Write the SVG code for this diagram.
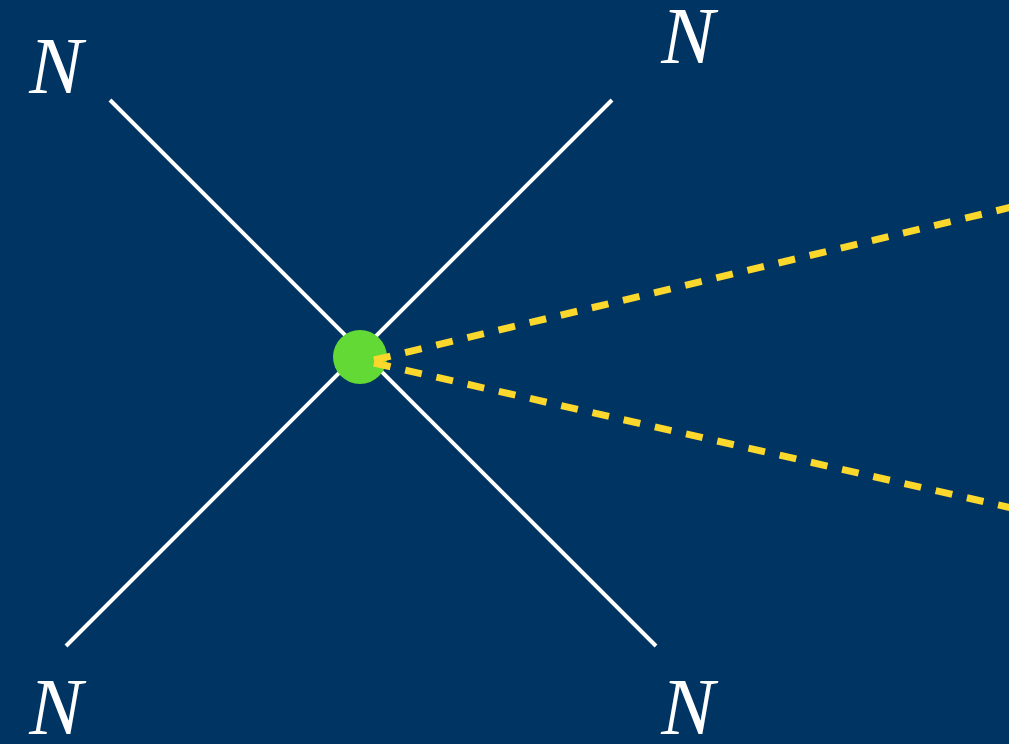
<svg xmlns="http://www.w3.org/2000/svg" width="1009" height="744" viewBox="0 0 1009 744">
<style>
.edge{stroke:#ffffff;stroke-width:4;fill:none}
.ray{stroke:#fcd72c;stroke-width:7;fill:none;stroke-dasharray:17 15}
.lbl{font-family:'Liberation Serif','Times New Roman',serif;font-style:italic;font-weight:400;font-size:80px;fill:#ffffff;text-anchor:middle}
</style>
<rect width="1009" height="744" fill="#003462"/>
<g id="connectors">
<line class="edge" x1="110" y1="100" x2="656" y2="646"/>
<line class="edge" x1="612" y1="100" x2="66" y2="646"/>
</g>
<g id="vertex"><circle cx="360" cy="357" r="27" fill="#62d935"/></g>
<g id="rays">
<line class="ray" x1="374" y1="360" x2="1012" y2="207"/>
<line class="ray" x1="374" y1="363" x2="1012" y2="508"/>
</g>
<g id="n1"><text class="lbl" x="56" y="93">N</text></g>
<g id="n2"><text class="lbl" x="688" y="63">N</text></g>
<g id="n3"><text class="lbl" x="56" y="734">N</text></g>
<g id="n4"><text class="lbl" x="688" y="734">N</text></g>
</svg>
